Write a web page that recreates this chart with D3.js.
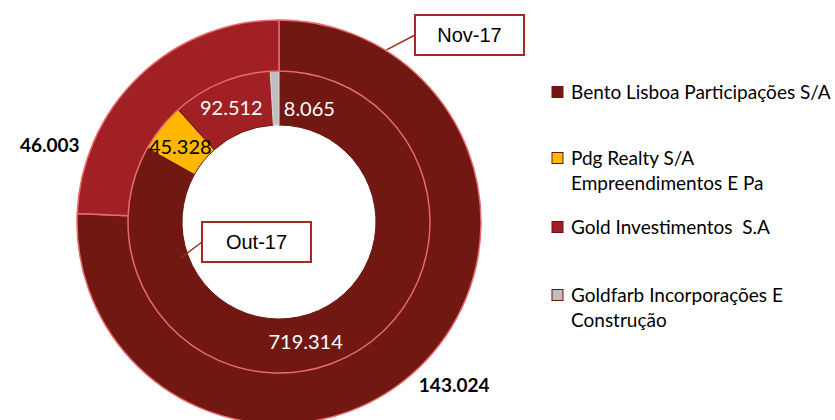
<!DOCTYPE html>
<html>
<head>
<meta charset="utf-8">
<script src="https://cdn.jsdelivr.net/npm/d3@7"></script>
<style>
  body { margin: 0; background: #fff; }
  svg { display: block; }
</style>
</head>
<body>
<div id="chart"></div>
<script>
// companies in legend order
var companies = [
    "Bento Lisboa Participações S/A",
    "Pdg Realty S/A Empreendimentos E Pa",
    "Gold Investimentos  S.A",
    "Goldfarb Incorporações E Construção"
];
var legendLines = [
    ["Bento Lisboa Participações S/A"],
    ["Pdg Realty S/A", "Empreendimentos E Pa"],
    ["Gold Investimentos  S.A"],
    ["Goldfarb Incorporações E", "Construção"]
];
var colors = ["#701811", "#FFB700", "#A12023", "#BFBFBF"];

// values (thousands), outer ring = Nov-17, inner ring = Out-17
var nov17 = [143024, 0, 46003, 0];
var out17 = [719314, 45328, 92512, 8065];
var seriesNames = ["Nov-17", "Out-17"];

function init() {
    var w = 835, h = 420;
    var cx = 279, cy = 222;
    var rHole = 97, rMid = 151, rOuter = 202;

    var fmt = d3.formatLocale({decimal: ",", thousands: ".", grouping: [3], currency: ["R$", ""]}).format(",d");

    var svg = d3.select("#chart").append("svg")
        .attr("width", w)
        .attr("height", h);

    var g = svg.append("g").attr("transform", "translate(" + cx + "," + cy + ")");

    var pie = d3.pie().sort(null).value(function(d) { return d; });

    var innerArc = d3.arc().innerRadius(rHole).outerRadius(rMid);
    var outerArc = d3.arc().innerRadius(rMid).outerRadius(rOuter);

    var innerData = pie(out17);
    var outerData = pie(nov17);

    // inner ring (Out-17)
    g.selectAll("path.inner")
        .data(innerData)
        .enter().append("path")
        .attr("class", "inner")
        .attr("d", innerArc)
        .attr("fill", function(d, i) { return colors[i]; })
        .attr("stroke", function(d, i) { return i == 3 ? "#d9d9d9" : "#6a1410"; })
        .attr("stroke-width", 1);

    // outer ring (Nov-17)
    g.selectAll("path.outer")
        .data(outerData.filter(function(d) { return d.value > 0; }))
        .enter().append("path")
        .attr("class", "outer")
        .attr("d", outerArc)
        .attr("fill", function(d) { return colors[d.index]; })
        .attr("stroke", "#E86B6E")
        .attr("stroke-width", 1.5);

    // inner labels (offsets from centroid where Excel moved them)
    var innerOffsets = [[-36, 13], [-2, 3], [0, 0], [34, 11]];
    var innerTextColor = ["#fff", "#000", "#fff", "#fff"];
    g.selectAll("text.inner")
        .data(innerData)
        .enter().append("text")
        .attr("class", "inner")
        .attr("x", function(d, i) { return innerArc.centroid(d)[0] + innerOffsets[i][0]; })
        .attr("y", function(d, i) { return innerArc.centroid(d)[1] + innerOffsets[i][1]; })
        .attr("dy", "0.35em")
        .attr("text-anchor", "middle")
        .style("font-family", "Lato, 'Noto Sans', sans-serif")
        .style("font-size", "20px")
        .attr("fill", function(d, i) { return innerTextColor[i]; })
        .text(function(d) { return fmt(d.value); });

    // outer labels, outside the ring
    var outerOffsets = [[53, 36], null, [-107, 51], null];
    g.selectAll("text.outer")
        .data(outerData.filter(function(d) { return d.value > 0; }))
        .enter().append("text")
        .attr("class", "outer")
        .attr("x", function(d) { return outerArc.centroid(d)[0] + outerOffsets[d.index][0]; })
        .attr("y", function(d) { return outerArc.centroid(d)[1] + outerOffsets[d.index][1]; })
        .attr("dy", "0.35em")
        .attr("text-anchor", "middle")
        .style("font-family", "Lato, 'Noto Sans', sans-serif")
        .style("font-size", "19px")
        .style("font-weight", "bold")
        .attr("fill", "#000")
        .text(function(d) { return fmt(d.value); });

    // series callouts
    var callouts = [
        {name: seriesNames[0], angle: 32, r: rOuter + 1, bx: 415, by: 15, bw: 109, bh: 40},
        {name: seriesNames[1], angle: 250, r: rHole + 7, bx: 202, by: 222, bw: 109, bh: 40}
    ];
    callouts.forEach(function(c) {
        var a = c.angle * Math.PI / 180;
        var px = cx + c.r * Math.sin(a), py = cy - c.r * Math.cos(a);
        svg.append("line")
            .attr("x1", px).attr("y1", py)
            .attr("x2", c.bx).attr("y2", c.by + c.bh / 2)
            .attr("stroke", "#A52A24")
            .attr("stroke-width", 1.5);
        svg.append("rect")
            .attr("x", c.bx).attr("y", c.by)
            .attr("width", c.bw).attr("height", c.bh)
            .attr("fill", "#fff")
            .attr("stroke", "#A52A24")
            .attr("stroke-width", 2);
        svg.append("text")
            .attr("x", c.bx + c.bw / 2)
            .attr("y", c.by + c.bh / 2)
            .attr("dy", "0.36em")
            .attr("text-anchor", "middle")
            .style("font-family", "'Liberation Sans', Arial, sans-serif")
            .style("font-size", "20px")
            .attr("fill", "#000")
            .text(c.name);
    });

    // legend
    var legendY = [92, 158, 227, 295];
    var legend = svg.selectAll("g.legend")
        .data(companies)
        .enter().append("g")
        .attr("class", "legend")
        .attr("transform", function(d, i) { return "translate(552," + legendY[i] + ")"; });

    legend.append("rect")
        .attr("x", 0).attr("y", -5.5)
        .attr("width", 11).attr("height", 11)
        .attr("fill", function(d, i) { return colors[i]; })
        .attr("stroke", "#6a1410")
        .attr("stroke-width", 1);

    legend.append("text")
        .attr("x", 19)
        .attr("y", 0)
        .style("font-family", "Lato, 'Noto Sans', sans-serif")
        .style("font-size", "19px")
        .style("white-space", "pre")
        .attr("fill", "#000")
        .selectAll("tspan")
        .data(function(d, i) { return legendLines[i]; })
        .enter().append("tspan")
        .attr("x", 19)
        .attr("dy", function(d, j) { return j == 0 ? "0.35em" : "25px"; })
        .text(function(d) { return d; });
}

window.onload = init;
</script>
</body>
</html>
